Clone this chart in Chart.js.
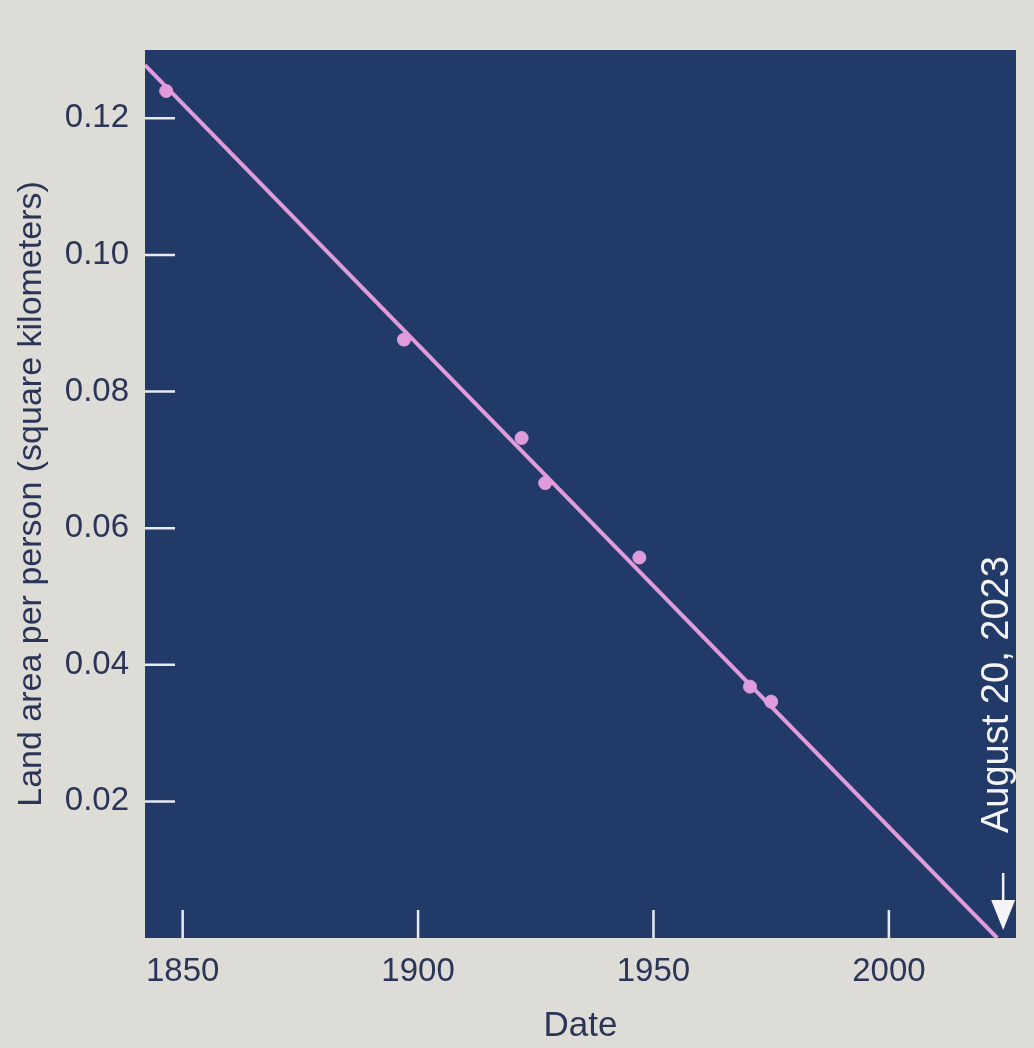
<!DOCTYPE html>
<html>
<head>
<meta charset="utf-8">
<script src="https://cdn.jsdelivr.net/npm/chart.js@4/dist/chart.umd.min.js"></script>
<style>
  html, body { margin: 0; padding: 0; background: #dedcd6; }
  #wrap { width: 1034px; height: 1048px; position: relative; }
</style>
</head>
<body>
<div id="wrap"><canvas id="c" width="1034" height="1048"></canvas></div>
<script>
// ---- Data ----
const pointYears  = [1846.5, 1897, 1922, 1927, 1947, 1970.5, 1975];
const pointValues = [0.124, 0.0876, 0.0732, 0.0666, 0.0557, 0.0368, 0.0346];
const trendYears  = [1842, 2023];
const trendValues = [0.1278, 0];
const xTickValues = [1850, 1900, 1950, 2000];
const yTickValues = [0.02, 0.04, 0.06, 0.08, 0.10, 0.12];
const annotationYear = 2023;
const annotationText = 'August 20, 2023';
const xTitle = 'Date';
const yTitle = 'Land area per person (square kilometers)';

const NAVY = '#223a67';
const PINK = '#df9bdb';
const TEXT = '#2b3558';
const FONT = "'Liberation Sans', Arial, sans-serif";

const plotBg = {
  id: 'plotBg',
  beforeDraw(chart) {
    const {ctx, chartArea: a} = chart;
    ctx.save();
    ctx.fillStyle = NAVY;
    ctx.fillRect(a.left, a.top, a.right - a.left, a.bottom - a.top);
    ctx.restore();
  },
  beforeDatasetsDraw(chart) {
    const {ctx, chartArea: a, scales} = chart;
    ctx.save();
    ctx.strokeStyle = '#e6eaf2';
    ctx.lineWidth = 2.5;
    ctx.beginPath();
    yTickValues.forEach(v => {
      const y = scales.y.getPixelForValue(v);
      ctx.moveTo(a.left, y);
      ctx.lineTo(a.left + 30, y);
    });
    xTickValues.forEach(v => {
      const x = scales.x.getPixelForValue(v);
      ctx.moveTo(x, a.bottom);
      ctx.lineTo(x, a.bottom - 28);
    });
    ctx.stroke();
    ctx.restore();
  },
  afterDraw(chart) {
    const {ctx, chartArea: a, scales} = chart;
    const x = scales.x.getPixelForValue(annotationYear) + 6;
    const tip = a.bottom - 8;
    ctx.save();
    ctx.fillStyle = '#f4f4f6';
    ctx.strokeStyle = '#f4f4f6';
    // arrow head
    ctx.beginPath();
    ctx.moveTo(x, tip);
    ctx.lineTo(x - 12, tip - 30);
    ctx.lineTo(x + 12, tip - 30);
    ctx.closePath();
    ctx.fill();
    // shaft
    ctx.lineWidth = 2.5;
    ctx.beginPath();
    ctx.moveTo(x, tip - 28);
    ctx.lineTo(x, tip - 57);
    ctx.stroke();
    // text
    ctx.translate(x + 5, tip - 97);
    ctx.rotate(-Math.PI / 2);
    ctx.font = '38px ' + FONT;
    ctx.textAlign = 'left';
    ctx.textBaseline = 'alphabetic';
    ctx.fillText(annotationText, 0, 0);
    ctx.restore();
  }
};

new Chart(document.getElementById('c'), {
  type: 'scatter',
  data: {
    datasets: [
      {
        type: 'line',
        data: trendYears.map((x, i) => ({x, y: trendValues[i]})),
        borderColor: PINK,
        borderWidth: 4,
        pointRadius: 0,
        fill: false,
        order: 2
      },
      {
        data: pointYears.map((x, i) => ({x, y: pointValues[i]})),
        backgroundColor: PINK,
        borderColor: PINK,
        pointRadius: 6.5,
        order: 1
      }
    ]
  },
  options: {
    responsive: false,
    animation: false,
    devicePixelRatio: 1,
    layout: { padding: { top: 50, right: 18, left: 0, bottom: 0 } },
    plugins: { legend: { display: false }, tooltip: { enabled: false } },
    scales: {
      x: {
        type: 'linear',
        min: 1842, max: 2027,
        afterFit(s) { s.height = 110; },
        afterBuildTicks(s) { s.ticks = xTickValues.map(v => ({value: v})); },
        grid: { display: false, drawTicks: false },
        border: { display: false },
        ticks: {
          color: TEXT, padding: 14,
          font: { family: FONT, size: 33 },
          callback: v => String(v),
          maxRotation: 0, autoSkip: false
        },
        title: {
          display: true, text: xTitle, color: TEXT,
          font: { family: FONT, size: 35 },
          padding: { top: 0, bottom: 1 }
        }
      },
      y: {
        type: 'linear',
        min: 0, max: 0.13,
        afterFit(s) { s.width = 145; },
        afterBuildTicks(s) { s.ticks = yTickValues.map(v => ({value: v})); },
        grid: { display: false, drawTicks: false },
        border: { display: false },
        ticks: {
          color: TEXT, padding: 16,
          font: { family: FONT, size: 33 },
          callback: v => Number(v).toFixed(2),
          autoSkip: false
        },
        title: {
          display: true, text: yTitle, color: TEXT,
          font: { family: FONT, size: 34 },
          padding: { top: 11, bottom: 0 }
        }
      }
    }
  },
  plugins: [plotBg]
});
</script>
</body>
</html>
